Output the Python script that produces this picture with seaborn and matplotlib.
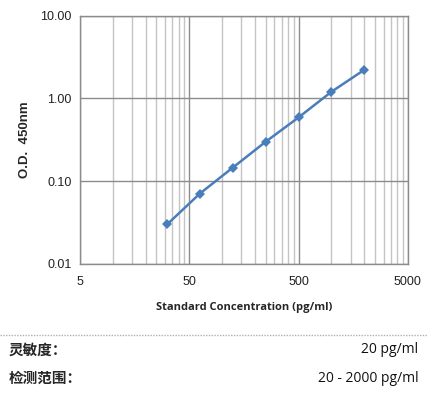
import matplotlib
matplotlib.use("Agg")
import matplotlib.pyplot as plt
from matplotlib.lines import Line2D
from matplotlib.ticker import FixedLocator, FixedFormatter, LogLocator, NullFormatter
import pandas as pd
import seaborn as sns

# standard curve values
concentration = [31.25, 62.5, 125, 250, 500, 1000, 2000]
od_450 = [0.030, 0.071, 0.146, 0.300, 0.590, 1.205, 2.22]

x_ticks = [5, 50, 500, 5000]
x_tick_labels = ["5", "50", "500", "5000"]
# minor gridlines sit at 10, 15, 20 ... 45 in each decade (axis starts at 5)
x_minor_steps = [1, 1.5, 2, 2.5, 3, 3.5, 4, 4.5]
x_minor_decades = [10, 100, 1000]
y_ticks = [0.01, 0.1, 1, 10]
y_tick_labels = ["0.01", "0.10", "1.00", "10.00"]

info_labels = ["灵敏度：", "检测范围："]
info_values = ["20 pg/ml", "20 - 2000 pg/ml"]

df = pd.DataFrame({"conc": concentration, "od": od_450})

sns.set_style("white")
plt.rcParams["font.family"] = ["Liberation Sans", "DejaVu Sans"]

fig = plt.figure(figsize=(4.28, 3.98), dpi=100)
ax = fig.add_axes([0.187, 0.3367, 0.766, 0.624])

sns.lineplot(data=df, x="conc", y="od", ax=ax, color="#4a7ebb", linewidth=1.8,
             marker="D", markersize=5, markeredgewidth=0)

ax.set_xscale("log")
ax.set_yscale("log")
ax.set_xlim(5, 5000)
ax.set_ylim(0.01, 10)

x_minor = [d * s for d in x_minor_decades for s in x_minor_steps]
ax.xaxis.set_major_locator(FixedLocator(x_ticks))
ax.xaxis.set_major_formatter(FixedFormatter(x_tick_labels))
ax.xaxis.set_minor_locator(FixedLocator(x_minor))
ax.xaxis.set_minor_formatter(NullFormatter())
ax.yaxis.set_major_locator(FixedLocator(y_ticks))
ax.yaxis.set_major_formatter(FixedFormatter(y_tick_labels))
ax.yaxis.set_minor_locator(LogLocator(base=10, subs=[2, 3, 4, 5, 6, 7, 8, 9]))
ax.yaxis.set_minor_formatter(NullFormatter())

ax.grid(True, which="major", color="#8c8c8c", linewidth=1.0)
ax.grid(True, which="minor", axis="x", color="#c4c4c4", linewidth=1.0)
ax.set_axisbelow(True)

ax.tick_params(axis="both", which="major", direction="out", length=4, width=1,
               color="#8c8c8c", labelsize=9, labelcolor="#222222", pad=2)
ax.tick_params(axis="x", which="major", pad=5)
ax.tick_params(axis="x", which="minor", length=0)
ax.tick_params(axis="y", which="minor", direction="in", length=3, width=0.8,
               color="#8c8c8c")

for spine in ax.spines.values():
    spine.set_color("#8c8c8c")
    spine.set_linewidth(1.0)

ax.set_xlabel("Standard Concentration (pg/ml)", fontsize=8, fontweight="bold",
              family=["Open Sans", "DejaVu Sans"], labelpad=10)
ax.set_ylabel("O.D.  450nm", fontsize=9.5, fontweight="bold", labelpad=7)

# dotted separator and spec text below the chart
fig.add_artist(Line2D([0, 1], [0.159, 0.159], color="#b0b0b0", linewidth=1,
                      linestyle=(0, (1, 1)), transform=fig.transFigure))
for i, (lab, val) in enumerate(zip(info_labels, info_values)):
    y = 0.122 - i * 0.072
    fig.text(0.02, y, lab, fontsize=10.5, fontweight="bold", va="center",
             family=["Noto Sans CJK SC", "DejaVu Sans"])
    fig.text(0.978, y, val, fontsize=10, va="center", ha="right",
             family=["Open Sans", "DejaVu Sans"], color="#111111")

fig.savefig("out.png", dpi=100)
